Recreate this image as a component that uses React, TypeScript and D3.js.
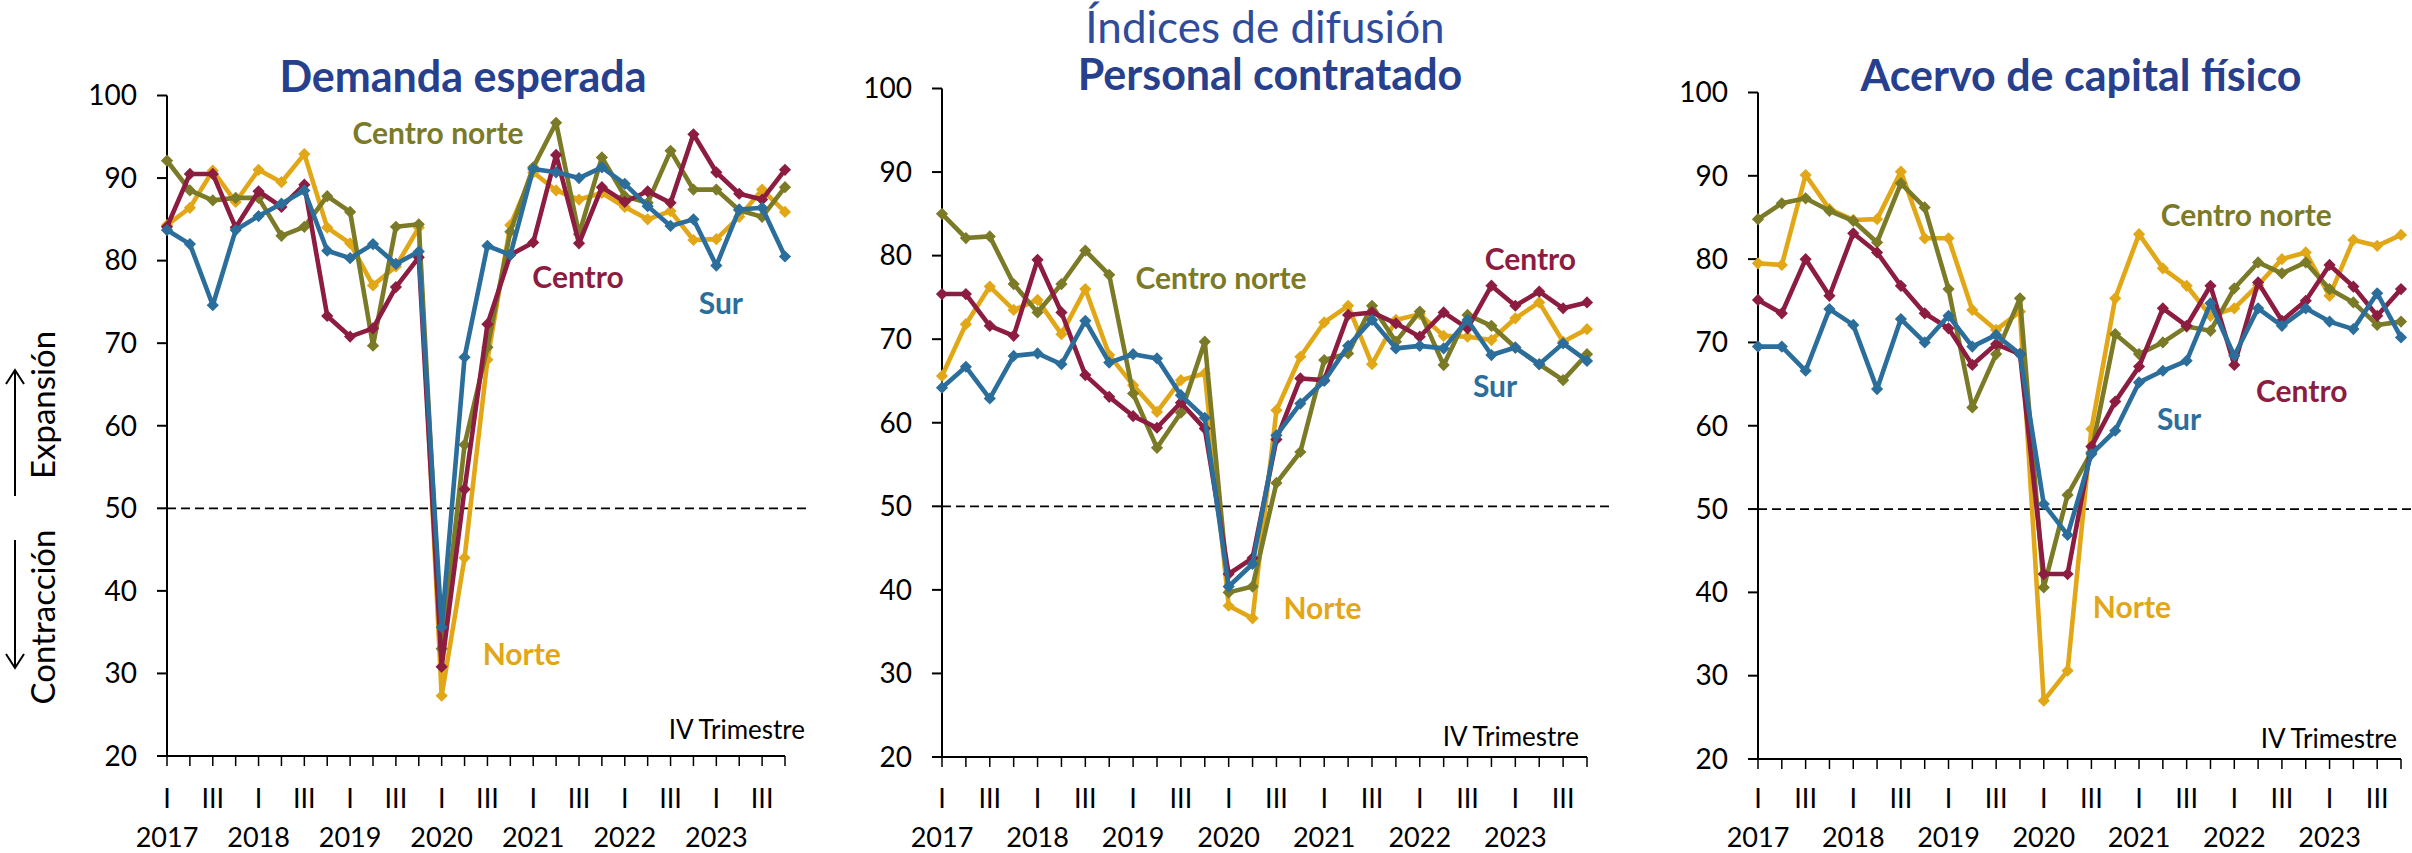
import React from "react";
import * as d3 from "d3";

// ---- Data (2017 Q1 … 2023 Q4) ----
const years = ["2017", "2018", "2019", "2020", "2021", "2022", "2023"];
const quarterNames = ["I", "II", "III", "IV"];
const seriesNames = ["Norte", "Centro norte", "Centro", "Sur"];
const yTicks = [20, 30, 40, 50, 60, 70, 80, 90, 100];

const demandaNorte = [84.3, 86.4, 90.9, 87.1, 91.0, 89.5, 92.9, 84.0, 82.1, 77.0, 79.3, 84.0, 27.3, 44.0, 68.0, 84.3, 90.7, 88.5, 87.4, 88.2, 86.5, 85.0, 86.0, 82.5, 82.6, 85.3, 88.6, 85.9];
const demandaCentroNorte = [92.1, 88.5, 87.3, 87.6, 87.6, 83.0, 84.1, 87.8, 85.9, 69.7, 84.1, 84.4, 33.0, 57.7, 69.5, 83.5, 91.3, 96.7, 83.2, 92.5, 87.8, 87.0, 93.3, 88.6, 88.6, 86.1, 85.3, 88.9];
const demandaCentro = [84.1, 90.5, 90.5, 84.0, 88.4, 86.5, 89.2, 73.3, 70.8, 71.8, 76.8, 80.4, 30.8, 52.3, 72.3, 80.7, 82.2, 92.8, 82.1, 88.9, 87.1, 88.4, 87.0, 95.3, 90.7, 88.1, 87.4, 91.0];
const demandaSur = [83.7, 82.0, 74.6, 83.7, 85.4, 86.9, 88.5, 81.2, 80.3, 82.0, 79.6, 81.1, 35.6, 68.3, 81.8, 80.7, 91.1, 90.7, 90.0, 91.3, 89.3, 86.6, 84.2, 85.0, 79.4, 86.2, 86.4, 80.5];

const personalNorte = [65.6, 71.8, 76.3, 73.5, 74.7, 70.6, 76.0, 68.1, 64.5, 61.3, 65.1, 65.9, 38.1, 36.6, 61.5, 67.9, 72.0, 74.0, 67.0, 72.3, 73.0, 70.4, 70.3, 69.9, 72.5, 74.4, 69.7, 71.2];
const personalCentroNorte = [85.0, 82.1, 82.3, 76.6, 73.2, 76.6, 80.6, 77.7, 63.5, 57.0, 61.2, 69.7, 39.7, 40.4, 52.8, 56.5, 67.5, 68.3, 74.0, 69.7, 73.3, 66.9, 72.9, 71.6, 69.0, 67.0, 65.1, 68.2];
const personalCentro = [75.4, 75.4, 71.6, 70.4, 79.5, 73.2, 65.7, 63.1, 60.8, 59.4, 62.4, 59.3, 41.9, 43.8, 58.0, 65.3, 65.1, 72.9, 73.2, 71.9, 70.3, 73.2, 71.3, 76.4, 74.0, 75.7, 73.7, 74.4];
const personalSur = [64.2, 66.7, 62.9, 68.0, 68.3, 67.0, 72.2, 67.2, 68.2, 67.7, 63.3, 60.6, 40.4, 43.1, 58.5, 62.3, 65.0, 69.2, 72.3, 68.9, 69.2, 68.9, 72.3, 68.1, 69.0, 67.0, 69.5, 67.4];

const capitalNorte = [79.5, 79.3, 90.1, 86.0, 84.7, 84.8, 90.5, 82.5, 82.5, 73.9, 71.5, 73.7, 27.0, 30.6, 59.6, 75.3, 83.0, 78.9, 76.8, 73.2, 74.1, 76.9, 80.0, 80.8, 75.6, 82.3, 81.6, 82.9];
const capitalCentroNorte = [84.8, 86.7, 87.3, 85.8, 84.6, 82.0, 89.1, 86.2, 76.4, 62.2, 68.6, 75.3, 40.6, 51.7, 56.8, 71.0, 68.6, 70.0, 71.9, 71.4, 76.5, 79.6, 78.3, 79.6, 76.4, 74.8, 72.1, 72.5];
const capitalCentro = [75.1, 73.5, 80.0, 75.6, 83.1, 80.8, 76.8, 73.5, 71.7, 67.3, 69.8, 68.6, 42.2, 42.2, 57.5, 62.9, 67.1, 74.1, 72.0, 76.8, 67.3, 77.2, 72.6, 75.0, 79.3, 76.7, 73.2, 76.4];
const capitalSur = [69.5, 69.5, 66.6, 74.0, 72.1, 64.4, 72.8, 70.0, 73.2, 69.5, 70.9, 68.6, 50.6, 46.9, 56.6, 59.4, 65.2, 66.6, 67.8, 74.7, 68.4, 74.1, 72.0, 74.1, 72.5, 71.6, 75.9, 70.6];

// ---- Styles / layout ----
const colors: Record<string, string> = {
  Norte: "#E2A716",
  "Centro norte": "#7A7A27",
  Centro: "#8C1C40",
  Sur: "#2B6E9C",
};
const FONT = "Lato, 'Open Sans', sans-serif";
const TITLE_BLUE = "#27408E";

const periods: { year: string; q: string }[] = [];
years.forEach((y) => quarterNames.forEach((q) => periods.push({ year: y, q })));

const panels = [
  {
    title: "Demanda esperada",
    data: [demandaNorte, demandaCentroNorte, demandaCentro, demandaSur],
    x0: 167, x1: 785, yTop: 95.5, yBot: 756, titleX: 463, titleY: 92,
    labels: [
      { name: "Centro norte", k: 11.84, v: 95.4 },
      { name: "Centro", k: 17.96, v: 78.0 },
      { name: "Sur", k: 24.2, v: 74.85 },
      { name: "Norte", k: 15.5, v: 32.3 },
    ],
    ivX: 805, ivY: 739,
  },
  {
    title: "Personal contratado",
    data: [personalNorte, personalCentroNorte, personalCentro, personalSur],
    x0: 942, x1: 1587, yTop: 88.5, yBot: 757, titleX: 1270, titleY: 90,
    labels: [
      { name: "Centro norte", k: 11.68, v: 77.3 },
      { name: "Centro", k: 24.63, v: 79.5 },
      { name: "Sur", k: 23.15, v: 64.35 },
      { name: "Norte", k: 15.93, v: 37.8 },
    ],
    ivX: 1579, ivY: 746,
  },
  {
    title: "Acervo de capital físico",
    data: [capitalNorte, capitalCentroNorte, capitalCentro, capitalSur],
    x0: 1758, x1: 2401, yTop: 92.5, yBot: 759, titleX: 2081, titleY: 91,
    labels: [
      { name: "Centro norte", k: 20.5, v: 85.2 },
      { name: "Centro", k: 22.83, v: 64.15 },
      { name: "Sur", k: 17.68, v: 60.8 },
      { name: "Norte", k: 15.7, v: 38.2 },
    ],
    ivX: 2397, ivY: 748,
  },
];

function Panel({ p }: { p: (typeof panels)[number] }) {
  const x = d3.scaleLinear().domain([0, periods.length - 1]).range([p.x0, p.x1]);
  const y = d3.scaleLinear().domain([20, 100]).range([p.yBot, p.yTop]);
  const line = d3
    .line<number>()
    .x((_, i) => x(i))
    .y((d) => y(d));
  const diamond = d3.symbol(d3.symbolDiamond2, 95)();
  return (
    <g>
      <text x={p.titleX} y={p.titleY} textAnchor="middle" fontFamily={FONT} fontWeight={700} fontSize={43} fill={TITLE_BLUE}>
        {p.title}
      </text>
      {/* 50 reference line */}
      <line x1={p.x0} x2={p.x1 + 23} y1={y(50)} y2={y(50)} stroke="#000" strokeWidth={1.8} strokeDasharray="9 5" />
      {/* y axis */}
      <line x1={p.x0} x2={p.x0} y1={y(20)} y2={y(100)} stroke="#000" strokeWidth={2} />
      {yTicks.map((t) => (
        <g key={t}>
          <line x1={p.x0 - 10} x2={p.x0} y1={y(t)} y2={y(t)} stroke="#000" strokeWidth={2} />
          <text x={p.x0 - 30} y={y(t)} dy="0.35em" textAnchor="end" fontFamily={FONT} fontSize={28} fill="#000">
            {t}
          </text>
        </g>
      ))}
      {/* x axis */}
      <line x1={p.x0} x2={p.x1} y1={y(20)} y2={y(20)} stroke="#000" strokeWidth={2} />
      {periods.map((per, i) => (
        <g key={i}>
          <line x1={x(i)} x2={x(i)} y1={y(20)} y2={y(20) + 10} stroke="#000" strokeWidth={1.5} />
          {(per.q === "I" || per.q === "III") && (
            <text x={x(i)} y={808} textAnchor="middle" fontFamily={FONT} fontSize={27} fill="#000">
              {per.q}
            </text>
          )}
          {per.q === "I" && (
            <text x={x(i)} y={847} textAnchor="middle" fontFamily={FONT} fontSize={27} fill="#000">
              {per.year}
            </text>
          )}
        </g>
      ))}
      <text x={p.ivX} y={p.ivY} textAnchor="end" fontFamily={FONT} fontSize={26} fill="#000">
        IV Trimestre
      </text>
      {/* series */}
      {p.data.map((vals, si) => {
        const c = colors[seriesNames[si]];
        return (
          <g key={si}>
            <path d={line(vals) || ""} fill="none" stroke={c} strokeWidth={4.6} strokeLinejoin="round" />
            {vals.map((v, i) => (
              <path key={i} d={diamond || ""} transform={`translate(${x(i)},${y(v)})`} fill={c} />
            ))}
          </g>
        );
      })}
      {p.labels.map((l) => (
        <text key={l.name} x={x(l.k)} y={y(l.v)} dy="0.35em" textAnchor="middle" fontFamily={FONT} fontWeight={700} fontSize={30} fill={colors[l.name]}>
          {l.name}
        </text>
      ))}
    </g>
  );
}

export default function App() {
  return (
    <div style={{ position: "fixed", left: 0, top: 0 }}>
      <svg width={2412} height={853} viewBox="0 0 2412 853" style={{ display: "block", background: "#fff" }}>
        <rect width={2412} height={853} fill="#fff" />
        <text x={1265} y={43} textAnchor="middle" fontFamily={FONT} fontSize={44} fill="#2F4C9C">
          Índices de difusión
        </text>
        {/* side labels */}
        <g>
          <line x1={15} x2={15} y1={496} y2={372} stroke="#000" strokeWidth={2} />
          <polyline points="6,384 15,370 24,384" fill="none" stroke="#000" strokeWidth={2} />
          <text transform="translate(43,405) rotate(-90)" textAnchor="middle" dy="0.35em" fontFamily={FONT} fontSize={33} fill="#000">
            Expansión
          </text>
          <line x1={15} x2={15} y1={540} y2={666} stroke="#000" strokeWidth={2} />
          <polyline points="6,654 15,668 24,654" fill="none" stroke="#000" strokeWidth={2} />
          <text transform="translate(43,617) rotate(-90)" textAnchor="middle" dy="0.35em" fontFamily={FONT} fontSize={33} fill="#000">
            Contracción
          </text>
        </g>
        {panels.map((p) => (
          <Panel key={p.title} p={p} />
        ))}
      </svg>
    </div>
  );
}
